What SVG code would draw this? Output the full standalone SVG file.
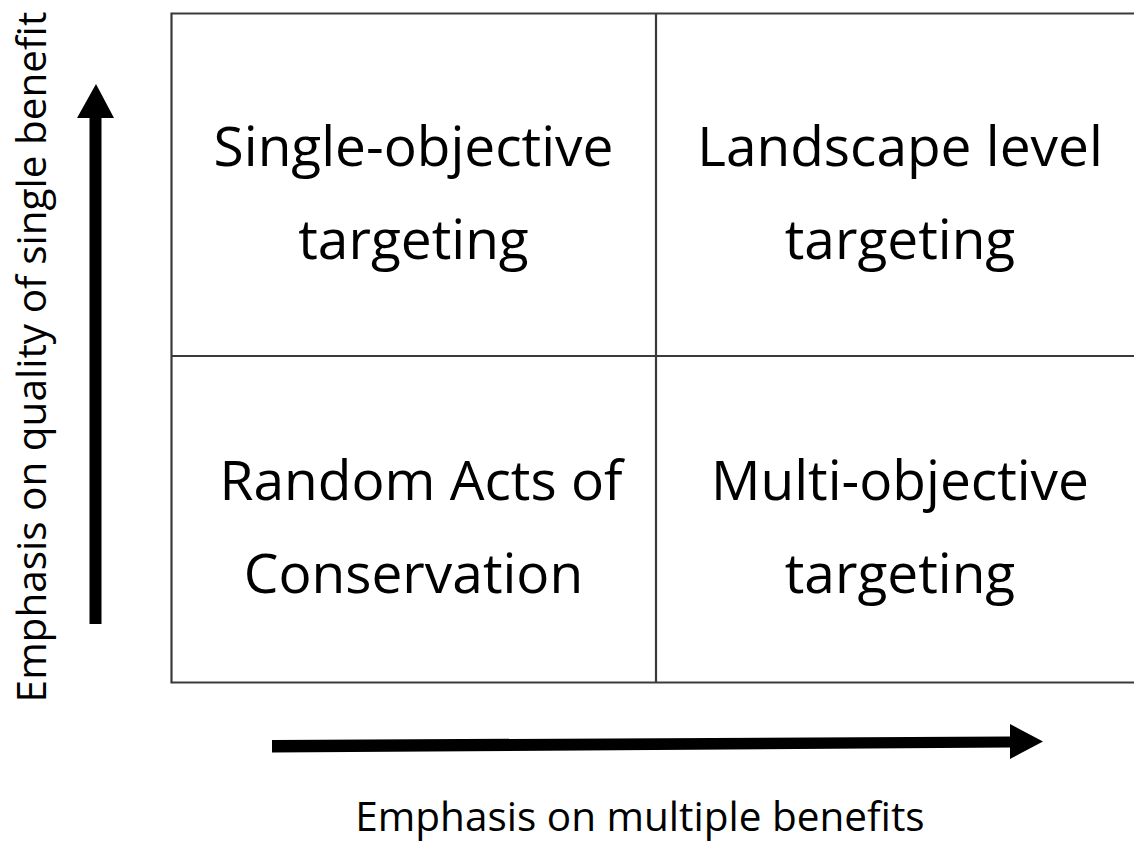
<svg xmlns="http://www.w3.org/2000/svg" width="1134" height="844" viewBox="0 0 1134 844">
  <style>
    .grid { fill: none; stroke: #3a3a3a; stroke-width: 2.2; }
    .cell { font-family: "Open Sans", "Noto Sans", sans-serif; font-size: 55px; fill: #000; text-anchor: middle; }
    .axis { font-family: "Open Sans", "Noto Sans", sans-serif; font-size: 40.5px; fill: #000; text-anchor: middle; }
    .arrow { fill: #000; }
  </style>
  <rect width="1134" height="844" fill="#fff"/>

  <!-- 2x2 matrix frame -->
  <g id="matrix">
    <path class="grid" d="M1140 13.5 H171.5 V682.5 H1140"/>
    <line class="grid" x1="656" y1="13.5" x2="656" y2="682.5"/>
    <line class="grid" x1="171.5" y1="356" x2="1140" y2="356"/>
  </g>

  <g id="single-objective">
    <text class="cell" x="413.5" y="166">Single-objective</text>
    <text class="cell" x="413.5" y="259">targeting</text>
  </g>
  <g id="landscape-level">
    <text class="cell" x="900" y="166">Landscape level</text>
    <text class="cell" x="900" y="259">targeting</text>
  </g>
  <g id="random-acts">
    <text class="cell" x="421" y="500">Random Acts of</text>
    <text class="cell" x="413.5" y="593">Conservation</text>
  </g>
  <g id="multi-objective">
    <text class="cell" x="900" y="500">Multi-objective</text>
    <text class="cell" x="900" y="593">targeting</text>
  </g>

  <!-- axis arrows -->
  <g id="connectors">
    <polygon class="arrow" points="89.5,624 89.5,118 77,118 96,84 114,118 101.5,118 101.5,624"/>
    <polygon class="arrow" points="272,740 1010,736.5 1010,724 1043,741.5 1010,759 1010,747.5 272,752.5"/>
  </g>

  <g id="axis-labels">
    <text class="axis" transform="translate(46,357) rotate(-90)">Emphasis on quality of single benefit</text>
    <text class="axis" x="640" y="831">Emphasis on multiple benefits</text>
  </g>
</svg>
